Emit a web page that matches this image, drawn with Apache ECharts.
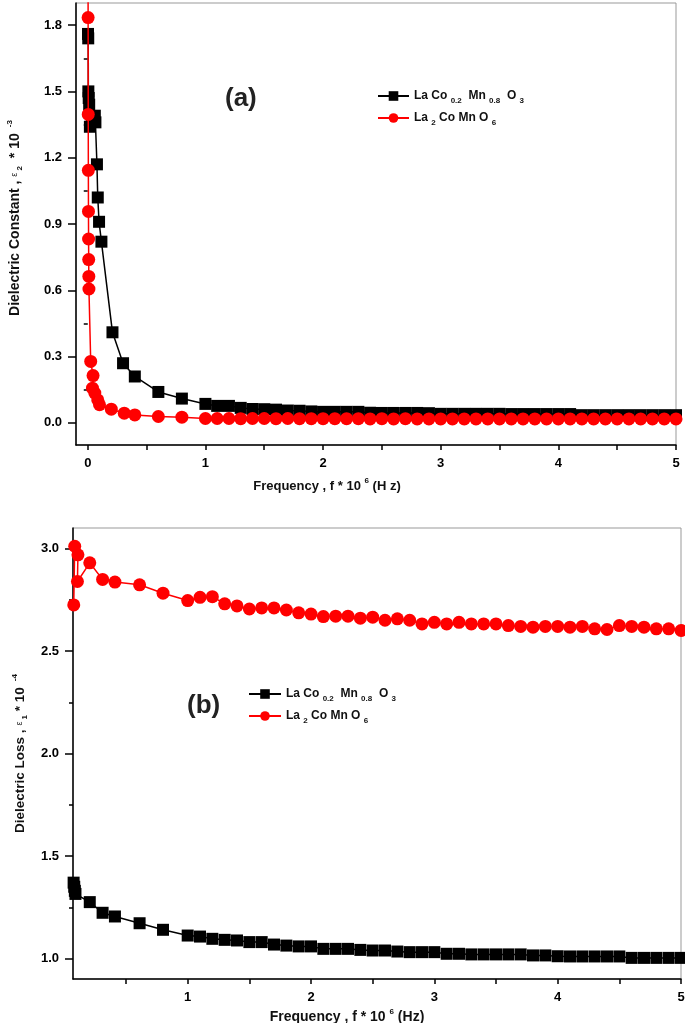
<!DOCTYPE html>
<html>
<head>
<meta charset="utf-8">
<script src="https://cdn.jsdelivr.net/npm/echarts@6/dist/echarts.min.js"></script>
<style>
html,body{margin:0;padding:0;background:#fff;}
#chart{width:685px;height:1023px;}
</style>
</head>
<body>
<div id="chart"></div>
<script>
// ---- Panel (a): Dielectric constant ----
const freqA_black = [0.002,0.004,0.005,0.008,0.012,0.018,0.035,0.06,0.065,0.078,0.085,0.096,0.116,0.21,0.30,0.40,0.60,0.80,
  1.0,1.1,1.2,1.3,1.4,1.5,1.6,1.7,1.8,1.9,2.0,2.1,2.2,2.3,2.4,2.5,2.6,2.7,2.8,2.9,3.0,3.1,3.2,3.3,3.4,3.5,3.6,3.7,3.8,3.9,4.0,4.1,4.2,4.3,4.4,4.5,4.6,4.7,4.8,4.9,5.0];
const epsA_black = [1.76,1.74,1.50,1.47,1.44,1.34,1.37,1.39,1.36,1.17,1.02,0.91,0.82,0.41,0.27,0.21,0.14,0.11,
  0.086,0.077,0.077,0.068,0.063,0.062,0.060,0.056,0.055,0.052,0.050,0.050,0.050,0.050,0.046,0.045,0.045,0.045,0.045,0.044,0.041,0.041,0.041,0.041,0.041,0.041,0.040,0.040,0.040,0.040,0.040,0.040,0.035,0.035,0.035,0.035,0.035,0.035,0.035,0.035,0.035];
const freqA_red = [0.002,0.003,0.004,0.005,0.006,0.007,0.008,0.009,0.010,0.025,0.045,0.040,0.06,0.085,0.10,0.20,0.31,0.40,0.60,0.80,
  1.0,1.1,1.2,1.3,1.4,1.5,1.6,1.7,1.8,1.9,2.0,2.1,2.2,2.3,2.4,2.5,2.6,2.7,2.8,2.9,3.0,3.1,3.2,3.3,3.4,3.5,3.6,3.7,3.8,3.9,4.0,4.1,4.2,4.3,4.4,4.5,4.6,4.7,4.8,4.9,5.0];
const epsA_red = [2.2,1.834,1.396,1.143,0.957,0.832,0.739,0.663,0.606,0.278,0.214,0.157,0.135,0.104,0.082,0.062,0.044,0.036,0.029,0.026,
  0.020,0.020,0.020,0.019,0.020,0.020,0.019,0.020,0.019,0.019,0.019,0.019,0.019,0.019,0.018,0.019,0.018,0.019,0.018,0.018,0.018,0.018,0.018,0.018,0.018,0.018,0.018,0.018,0.018,0.018,0.018,0.018,0.018,0.018,0.018,0.018,0.018,0.018,0.018,0.018,0.018];

// ---- Panel (b): Dielectric loss ----
const freqB_black = [0.075,0.080,0.085,0.090,0.206,0.31,0.41,0.61,0.80,
  1.0,1.1,1.2,1.3,1.4,1.5,1.6,1.7,1.8,1.9,2.0,2.1,2.2,2.3,2.4,2.5,2.6,2.7,2.8,2.9,3.0,3.1,3.2,3.3,3.4,3.5,3.6,3.7,3.8,3.9,4.0,4.1,4.2,4.3,4.4,4.5,4.6,4.7,4.8,4.9,5.0];
const lossB_black = [1.370,1.350,1.330,1.315,1.275,1.223,1.205,1.172,1.140,
  1.112,1.107,1.096,1.091,1.088,1.080,1.080,1.068,1.063,1.059,1.059,1.047,1.047,1.047,1.042,1.039,1.039,1.034,1.031,1.031,1.031,1.023,1.023,1.020,1.020,1.020,1.020,1.020,1.015,1.015,1.011,1.010,1.010,1.010,1.010,1.010,1.003,1.003,1.003,1.003,1.003];
const freqB_red = [0.076,0.084,0.110,0.106,0.206,0.31,0.41,0.61,0.80,
  1.0,1.1,1.2,1.3,1.4,1.5,1.6,1.7,1.8,1.9,2.0,2.1,2.2,2.3,2.4,2.5,2.6,2.7,2.8,2.9,3.0,3.1,3.2,3.3,3.4,3.5,3.6,3.7,3.8,3.9,4.0,4.1,4.2,4.3,4.4,4.5,4.6,4.7,4.8,4.9,5.0];
const lossB_red = [2.725,3.011,2.969,2.839,2.930,2.849,2.836,2.823,2.782,
  2.746,2.762,2.765,2.730,2.720,2.705,2.710,2.710,2.700,2.686,2.680,2.668,2.670,2.670,2.660,2.665,2.650,2.657,2.650,2.632,2.640,2.632,2.640,2.632,2.632,2.632,2.624,2.620,2.616,2.620,2.620,2.616,2.620,2.608,2.605,2.624,2.620,2.616,2.608,2.608,2.600];

// tick / label positions
const xLabelsA = [0,1,2,3,4,5];
const xTicksA = [0,0.5,1,1.5,2,2.5,3,3.5,4,4.5,5];
const yLabelsA = [0,0.3,0.6,0.9,1.2,1.5,1.8];
const yMinorA = [0.15,0.45,0.75,1.05,1.35,1.65];
const xLabelsB = [1,2,3,4,5];
const xTicksB = [0.5,1,1.5,2,2.5,3,3.5,4,4.5,5];
const yLabelsB = [1.0,1.5,2.0,2.5,3.0];
const yMinorB = [1.25,1.75,2.25,2.75];

const nameBlack = 'LaCo0.2Mn0.8O3';
const nameRed = 'La2CoMnO6';

const FONT = '"Liberation Sans", Arial, sans-serif';
const zip = (xs, ys) => xs.map((x, i) => [x, ys[i]]);

const baseText = {fontFamily: FONT, fontWeight: 'bold', color: '#000'};
function makeRich(size) {
  return {
    n: {fontFamily: FONT, fontWeight: 'bold', fontSize: size, color: '#111', lineHeight: 18},
    s: {fontFamily: FONT, fontWeight: 'bold', fontSize: 8, color: '#111', lineHeight: 9, verticalAlign: 'bottom'},
    p: {fontFamily: FONT, fontWeight: 'bold', fontSize: 8, color: '#111', lineHeight: 9, verticalAlign: 'top'},
    e: {fontFamily: FONT, fontSize: 9, color: '#111', lineHeight: 15}
  };
}
const legendRich = {
  n: {fontFamily: FONT, fontWeight: 'bold', fontSize: 12, color: '#111', lineHeight: 18},
  s: {fontFamily: FONT, fontWeight: 'bold', fontSize: 8, color: '#111', lineHeight: 8, verticalAlign: 'bottom'}
};
const legendFmt = name => name === nameBlack
  ? '{n|La Co }{s|0.2}{n|  Mn }{s|0.8}{n|  O }{s|3}'
  : '{n|La }{s|2}{n| Co Mn O }{s|6}';

function xAxisCfg(grid, min, labels, ticks, nameStr, padRight, gap, size) {
  return {
    type: 'value', gridIndex: grid, min: min, max: 5,
    splitLine: {show: false},
    axisLine: {show: true, onZero: false, lineStyle: {color: '#000', width: 1.5}},
    axisTick: {show: true, inside: false, length: 5, customValues: ticks, lineStyle: {color: '#000', width: 1.5}},
    axisLabel: {show: true, customValues: labels, margin: 12, fontSize: 13, ...baseText, formatter: v => String(v)},
    name: nameStr, nameLocation: 'middle', nameGap: gap,
    nameTextStyle: {rich: makeRich(size), padding: [0, padRight, 0, 0]}
  };
}
function yAxisCfg(grid, min, max, labels, nameStr, gap, padL, size) {
  return {
    type: 'value', gridIndex: grid, min: min, max: max, position: 'left',
    splitLine: {show: false},
    axisLine: {show: true, onZero: false, lineStyle: {color: '#000', width: 1.5}},
    axisTick: {show: true, inside: false, length: 8, customValues: labels, lineStyle: {color: '#000', width: 1.5}},
    axisLabel: {show: true, customValues: labels, margin: 14, fontSize: 13, ...baseText, formatter: v => v.toFixed(1)},
    name: nameStr, nameLocation: 'middle', nameGap: gap, nameRotate: 90,
    nameTextStyle: {rich: makeRich(size), padding: [0, 0, 0, padL]}
  };
}
function yMinorCfg(grid, min, max, ticks) {
  return {
    type: 'value', gridIndex: grid, min: min, max: max, position: 'left', offset: 0,
    splitLine: {show: false},
    axisLine: {show: false},
    axisTick: {show: true, inside: false, length: 4, customValues: ticks, lineStyle: {color: '#000', width: 1.5}},
    axisLabel: {show: false}
  };
}

const chart = echarts.init(document.getElementById('chart'), null, {renderer: 'canvas'});
chart.setOption({
  backgroundColor: '#fff',
  animation: false,
  grid: [
    {left: 76, width: 600, top: 3, height: 442, outerBoundsMode: 'none', containLabel: false,
     show: true, borderColor: '#999', borderWidth: 1, backgroundColor: 'transparent'},
    {left: 73, width: 608, top: 528, height: 451, outerBoundsMode: 'none', containLabel: false,
     show: true, borderColor: '#999', borderWidth: 1, backgroundColor: 'transparent'}
  ],
  xAxis: [
    xAxisCfg(0, -0.1, xLabelsA, xTicksA, '{n|Frequency , f * 10 }{p|6}{n| (H z)}', 98, 32, 13),
    xAxisCfg(1, 0.07, xLabelsB, xTicksB, '{n|Frequency , f * 10 }{p|6}{n| (Hz)}', 60, 29, 14)
  ],
  yAxis: [
    yAxisCfg(0, -0.1, 1.9, yLabelsA, '{n|Dielectric Constant , }{e|ε}{s| 2}{n|  * 10 }{p| -3}', 52, 12, 14),
    yMinorCfg(0, -0.1, 1.9, yMinorA),
    yAxisCfg(1, 0.9, 3.1, yLabelsB, '{n|Dielectric Loss , }{e|ε}{s| 1}{n| * 10 }{p| -4}', 44, 0, 13.5),
    yMinorCfg(1, 0.9, 3.1, yMinorB)
  ],
  legend: [
    {left: 377, top: 90, padding: 0, orient: 'vertical', itemWidth: 31, itemHeight: 12, itemGap: 7,
     data: [nameBlack, nameRed], formatter: legendFmt, textStyle: {rich: legendRich}},
    {left: 248, top: 688, padding: 0, orient: 'vertical', itemWidth: 32, itemHeight: 12, itemGap: 7,
     data: [nameBlack, nameRed], formatter: legendFmt, textStyle: {rich: legendRich}}
  ],
  graphic: [
    {type: 'text', left: 225, top: 86, style: {text: '(a)', font: 'bold 26px "Liberation Sans", Arial', fill: '#222'}},
    {type: 'text', left: 187, top: 693, style: {text: '(b)', font: 'bold 26px "Liberation Sans", Arial', fill: '#222'}}
  ],
  series: [
    {name: nameBlack, type: 'line', xAxisIndex: 0, yAxisIndex: 0, data: zip(freqA_black, epsA_black),
     symbol: 'rect', symbolSize: 12, itemStyle: {color: '#000'}, lineStyle: {color: '#000', width: 1.5}, clip: true, z: 2},
    {name: nameRed, type: 'line', xAxisIndex: 0, yAxisIndex: 0, data: zip(freqA_red, epsA_red),
     symbol: 'circle', symbolSize: 13, itemStyle: {color: '#ff0000'}, lineStyle: {color: '#ff0000', width: 1.5}, clip: true, z: 3},
    {name: nameBlack, type: 'line', xAxisIndex: 1, yAxisIndex: 2, data: zip(freqB_black, lossB_black),
     symbol: 'rect', symbolSize: 12, itemStyle: {color: '#000'}, lineStyle: {color: '#000', width: 1.5}, clip: true, z: 2},
    {name: nameRed, type: 'line', xAxisIndex: 1, yAxisIndex: 2, data: zip(freqB_red, lossB_red),
     symbol: 'circle', symbolSize: 13, itemStyle: {color: '#ff0000'}, lineStyle: {color: '#ff0000', width: 1.5}, clip: true, z: 3}
  ]
});
</script>
</body>
</html>
